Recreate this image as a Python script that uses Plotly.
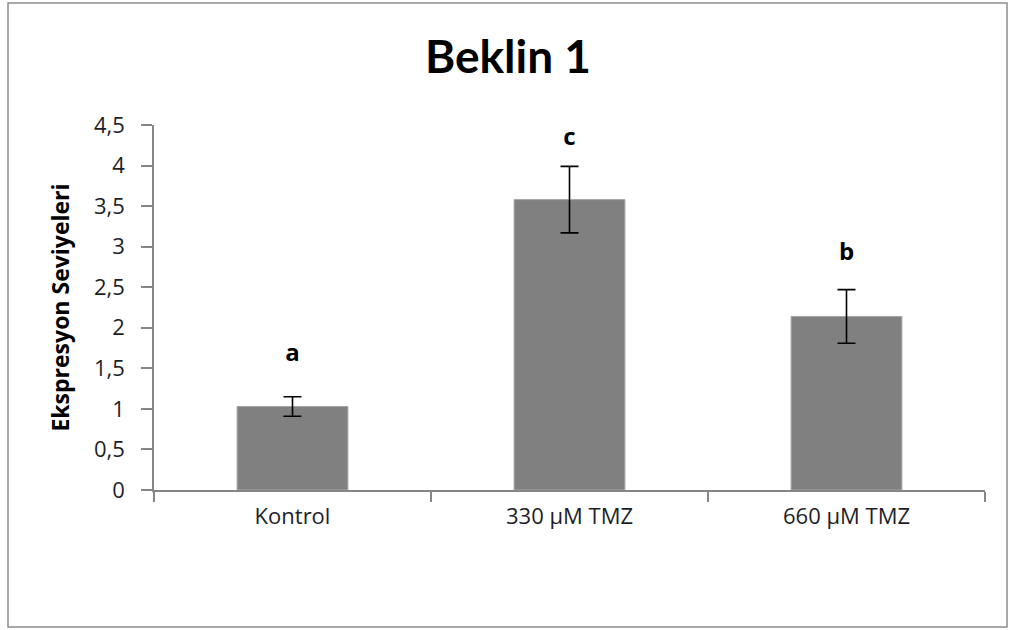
import plotly.graph_objects as go

categories = ["Kontrol", "330 µM TMZ", "660 µM TMZ"]
values = [1.03, 3.58, 2.14]
errors = [0.12, 0.41, 0.33]
letters = ["a", "c", "b"]
letter_y = [1.66, 4.33, 2.91]
y_ticks = [0, 0.5, 1, 1.5, 2, 2.5, 3, 3.5, 4, 4.5]
y_tick_text = ["0", "0,5", "1", "1,5", "2", "2,5", "3", "3,5", "4", "4,5"]

W, H = 1016, 630
ml, mr, mt, mb = 154, 31, 125, 140

fig = go.Figure()
fig.add_trace(go.Bar(
    x=categories, y=values, width=0.4,
    marker=dict(color="#808080", line=dict(color="#a6a6a6", width=1)),
    error_y=dict(type="data", array=errors, visible=True, color="black",
                 thickness=1.6, width=9),
    showlegend=False,
))
fig.add_trace(go.Scatter(
    x=categories, y=letter_y, mode="text", text=letters,
    textfont=dict(family="Open Sans", size=24, color="black", weight="bold"),
    showlegend=False,
))

pw = W - ml - mr
ph = H - mt - mb
fig.add_shape(type="rect", xref="paper", yref="paper",
              x0=(8 - ml) / pw, x1=(1007 - ml) / pw,
              y0=(H - mb - 627) / ph, y1=(H - mb - 3) / ph,
              line=dict(color="#8c8c8c", width=1.5), fillcolor="rgba(0,0,0,0)",
              layer="below")

fig.update_layout(
    width=W, height=H,
    margin=dict(l=ml, r=mr, t=mt, b=mb),
    paper_bgcolor="white", plot_bgcolor="white",
    title=dict(text="<b>Beklin 1</b>", x=0.5, xanchor="center",
               y=1 - 57 / H, yanchor="middle",
               font=dict(family="Lato", size=46, color="black")),
    bargap=0.6,
)
fig.update_xaxes(
    showline=True, linecolor="#868686", linewidth=1.5,
    ticks="outside", tickson="boundaries", ticklen=10, tickcolor="#868686",
    tickwidth=1.5,
    tickfont=dict(family="Open Sans", size=22, color="#1e1e28"),
    ticklabelstandoff=6,
    showgrid=False, zeroline=False,
)
fig.update_yaxes(
    range=[0, 4.5], tickvals=y_ticks, ticktext=y_tick_text,
    showline=True, linecolor="#868686", linewidth=1.5,
    ticks="outside", ticklen=11, tickcolor="#868686", tickwidth=1.5,
    tickfont=dict(family="Open Sans", size=22, color="#1e1e28"),
    ticklabelstandoff=12,
    showgrid=False, zeroline=False,
    title=dict(text="<b>Ekspresyon Seviyeleri</b>",
               font=dict(family="Open Sans", size=23, color="black"), standoff=18),
)

fig.write_html("out.html", config={"displayModeBar": False},
               post_script="document.body.style.margin='0';")
